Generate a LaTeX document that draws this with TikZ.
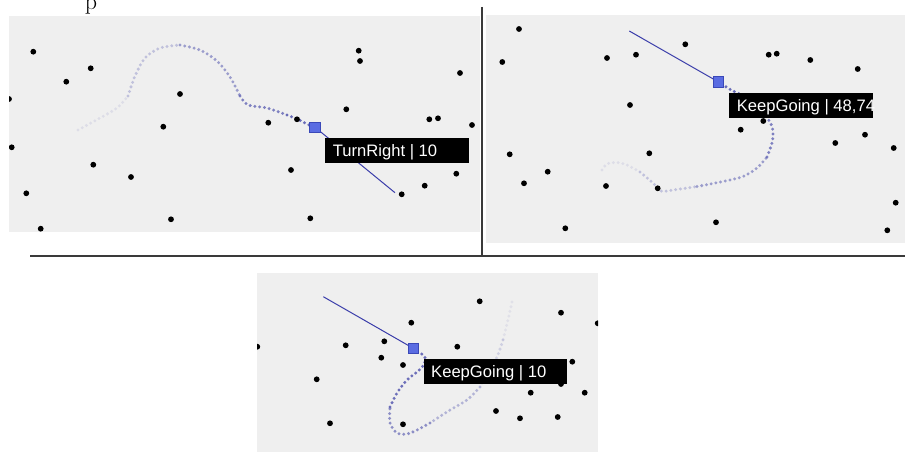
\documentclass[tikz,border=0pt]{standalone}
\usepackage{fontspec}
\newfontfamily\labelfont{Liberation Sans}
\definecolor{panelbg}{HTML}{EFEFEF}
\definecolor{trailc}{HTML}{5F62B4}
\definecolor{headc}{HTML}{3A3DAA}
\definecolor{sqfill}{HTML}{5A6CE2}
\definecolor{sqdraw}{HTML}{3A48B8}
\definecolor{sepc}{HTML}{3A3A3A}
\begin{document}
\begin{tikzpicture}[x=1pt,y=-1pt,
  panel/.style={fill=panelbg},
  obst/.style={fill=black},
  agent/.style={draw=sqdraw, fill=sqfill, line width=0.5pt, minimum size=10.5pt, inner sep=0pt},
  heading/.style={draw=headc, line width=1pt},
  tag/.style={fill=black, text=white, anchor=north west, inner sep=0pt,
    minimum height=25.4pt, text height=12pt, text depth=0pt,
    font=\labelfont\fontsize{16.6}{18}\selectfont},
  sepline/.style={draw=sepc, line width=2.2pt},
  trail/.style={draw=trailc, line width=3.3pt, line cap=round, dash pattern=on 0pt off 4.8pt, draw opacity=#1}
]
\useasboundingbox (0,0) rectangle (905,452);

% cut-off text at the top
\node[font=\fontsize{24}{26}\selectfont, anchor=base, inner sep=0pt] (ptxt) at (91,10) {p};

% ---------- panel 1 ----------
\begin{scope}
\clip (9,16) rectangle (480,232);
\fill[panel] (9,16) rectangle (480,232);
\draw[trail=0.12] plot[smooth] coordinates {(78,130) (100,118) (117,108) (128,96)};
\draw[trail=0.32] plot[smooth] coordinates {(128,96) (135,76) (145,58) (160,48) (180,45)};
\draw[trail=0.58] plot[smooth] coordinates {(180,45) (200,50) (217,61) (230,77) (240,96)};
\draw[trail=0.78] plot[smooth] coordinates {(240,96) (248,105) (267,108) (287,115)};
\draw[trail=0.92] plot[smooth] coordinates {(287,115) (297,119) (309,125)};
\foreach \p in {(33.3,51.7),(90.7,68.3),(66.3,81.7),(9,99),(180,94),(163.3,126.7),(268.3,122.7),(297,119.3),(11.7,147.3),(93.3,164.7),(131,177),(291,170),(26.3,193.3),(171,219.3),(40.7,228.7),(358.7,50.7),(360,61),(460,73),(346.3,109.3),(429.3,119.3),(438,118.3),(472,125),(456.3,173.7),(424.7,185.7),(401.7,194.3),(310.3,218.3)}
  \fill[obst] \p circle (2.9pt);
\coordinate (h1) at (395,192.7);
\node[agent] (sq1) at (314.7,127) {};
\draw[heading] (sq1.center) -- (h1);
\node[agent] at (sq1.center) {};
\node[tag] (lab1) at (325,137.3) {\makebox[144pt][l]{\hspace{7.7pt}TurnRight | 10}};
\end{scope}

% ---------- panel 2 ----------
\begin{scope}
\clip (486,15) rectangle (905,243);
\fill[panel] (486,15) rectangle (905,243);
\draw[trail=0.12] plot[smooth] coordinates {(602,170) (607,164) (617,162.5) (627,165) (640,172)};
\draw[trail=0.32] plot[smooth] coordinates {(640,172) (653,183) (661,191) (673,190) (697,186.5)};
\draw[trail=0.58] plot[smooth] coordinates {(697,186.5) (723,181.5) (743,176.5) (757,168) (767,157)};
\draw[trail=0.78] plot[smooth] coordinates {(767,157) (772,143) (773,133) (771,124) (762,110)};
\draw[trail=0.92] plot[smooth] coordinates {(762,110) (748,98) (732,90.5) (724,85.5)};
\foreach \p in {(519,29),(502.3,62),(607,58),(636,54.7),(685.3,44.3),(768.7,54.7),(776.7,53.7),(810.3,60),(857.7,69),(630,105),(740.7,129.7),(763.3,121),(835.3,143),(865,134.7),(893.7,148),(509.7,154.3),(649.3,153.3),(547.7,171.7),(524,183.3),(606,186),(657.7,188.3),(895.7,202.7),(716,222.3),(565.3,228.3),(887.3,230.3)}
  \fill[obst] \p circle (2.9pt);
\coordinate (h2) at (629.3,31);
\node[agent] (sq2) at (718,81.7) {};
\draw[heading] (sq2.center) -- (h2);
\node[agent] at (sq2.center) {};
\node[tag] (lab2) at (729,92.7) {\makebox[144pt][l]{\hspace{7.7pt}KeepGoing | 48,74}};
\end{scope}

% ---------- panel 3 ----------
\begin{scope}
\clip (257,273) rectangle (598,452);
\fill[panel] (257,273) rectangle (598,452);
\draw[trail=0.1] plot[smooth] coordinates {(512,302) (508,320) (503,340)};
\draw[trail=0.22] plot[smooth] coordinates {(503,340) (497,357) (488,372) (480,387)};
\draw[trail=0.42] plot[smooth] coordinates {(480,387) (467,400) (450,410) (430,423)};
\draw[trail=0.68] plot[smooth] coordinates {(430,423) (417,430) (407,434) (397,433) (390,423) (390,407)};
\draw[trail=0.9] plot[smooth] coordinates {(390,407) (397,393) (407,380) (417,372) (423,366) (425.5,360) (424,356) (419,352)};
\foreach \p in {(479.7,301.3),(561,312.7),(597.7,323.3),(411.3,322.7),(257.3,346.7),(345.7,345.3),(384.3,341.3),(457.3,346.7),(381.3,357.7),(403,365),(572.3,361.7),(561,384),(316.7,379.3),(530.7,392.7),(584.7,392.7),(496,411),(520,418.3),(557.7,417),(330,423.3),(403,424.3)}
  \fill[obst] \p circle (2.9pt);
\coordinate (h3) at (323.3,296.7);
\node[agent] (sq3) at (413.3,348.3) {};
\draw[heading] (sq3.center) -- (h3);
\node[agent] at (sq3.center) {};
\node[tag] (lab3) at (423.3,358.7) {\makebox[143pt][l]{\hspace{7.7pt}KeepGoing | 10}};
\end{scope}

% ---------- separators ----------
\coordinate (vtop) at (482,7);
\coordinate (vbot) at (482,256);
\coordinate (hl) at (30,256);
\coordinate (hr) at (905,256);
\draw[sepline] (vtop) -- (vbot);
\draw[sepline] (hl) -- (hr);
\end{tikzpicture}
\end{document}
